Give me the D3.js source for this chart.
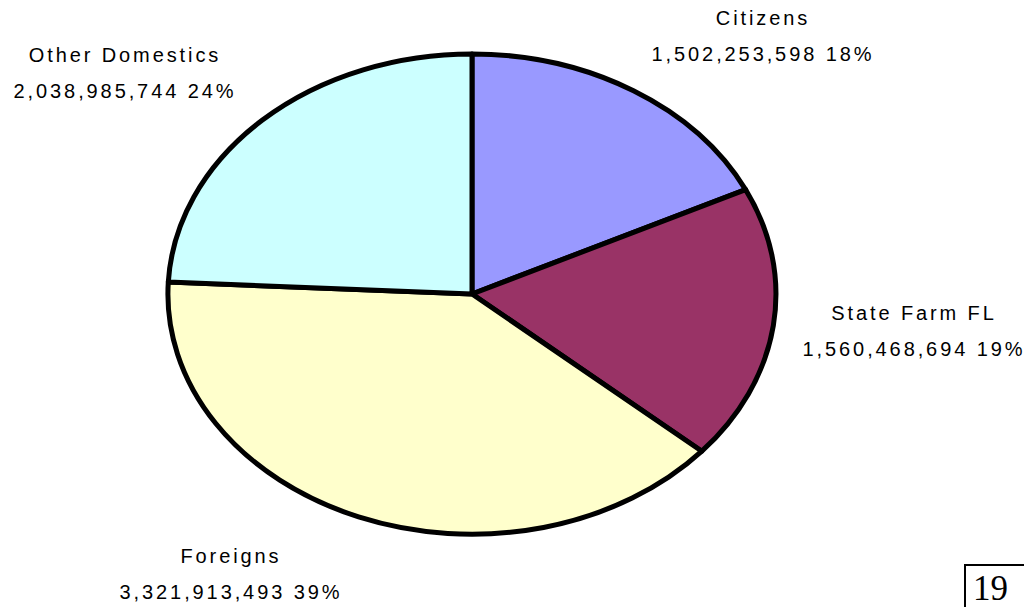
<!DOCTYPE html>
<html lang="en">
    <head>
        <meta charset="UTF-8" />
        <title>Pie</title>
        <script src="https://d3js.org/d3.v7.min.js"></script>
        <style>
            body {
                margin: 0;
                background: #fff;
            }
            .lbl {
                font-family: "Liberation Sans", Arial, sans-serif;
                font-size: 20px;
                letter-spacing: 2.9px;
                fill: #000;
            }
            .page {
                font-family: "Liberation Serif", "Times New Roman", serif;
                font-size: 35px;
            }
        </style>
    </head>
    <body>
        <svg id="chart" width="1024" height="607"></svg>
        <script>
            const categories = ["Citizens", "State Farm FL", "Foreigns", "Other Domestics"];
            const values = [1502253598, 1560468694, 3321913493, 2038985744];
            const percentLabels = ["18%", "19%", "39%", "24%"];
            const colors = ["#9999FF", "#993366", "#FFFFCC", "#CCFFFF"];

            // label block placement (centre x, first baseline)
            const labelPos = [
                [763, 25],
                [914, 320],
                [231, 563],
                [125, 62],
            ];

            const svg = d3.select("#chart");
            const cx = 472,
                cy = 294,
                rx = 304,
                ry = 240;

            const pie = d3.pie().sort(null).value((d) => d);
            const arc = d3.arc().innerRadius(0).outerRadius(1);
            const arcs = pie(values);

            const g = svg
                .append("g")
                .attr("transform", `translate(${cx},${cy}) scale(${rx},${ry})`);

            g.selectAll("path")
                .data(arcs)
                .enter()
                .append("path")
                .attr("d", arc)
                .attr("fill", (d, i) => colors[i])
                .attr("stroke", "#000")
                .attr("stroke-width", 5)
                .attr("stroke-linejoin", "round")
                .attr("vector-effect", "non-scaling-stroke");

            const fmt = d3.format(",");
            const labels = svg
                .selectAll(".lblg")
                .data(arcs)
                .enter()
                .append("g")
                .attr("class", "lblg");

            labels
                .append("text")
                .attr("class", "lbl")
                .attr("text-anchor", "middle")
                .attr("x", (d, i) => labelPos[i][0])
                .attr("y", (d, i) => labelPos[i][1])
                .text((d, i) => categories[i]);

            labels
                .append("text")
                .attr("class", "lbl")
                .attr("text-anchor", "middle")
                .attr("x", (d, i) => labelPos[i][0])
                .attr("y", (d, i) => labelPos[i][1] + 36)
                .text((d, i) => fmt(d.value) + " " + percentLabels[i]);

            // page number box
            svg.append("rect")
                .attr("x", 965)
                .attr("y", 565)
                .attr("width", 70)
                .attr("height", 60)
                .attr("fill", "none")
                .attr("stroke", "#000")
                .attr("stroke-width", 2);
            svg.append("text")
                .attr("class", "page")
                .attr("x", 973)
                .attr("y", 600)
                .text("19");
        </script>
    </body>
</html>
